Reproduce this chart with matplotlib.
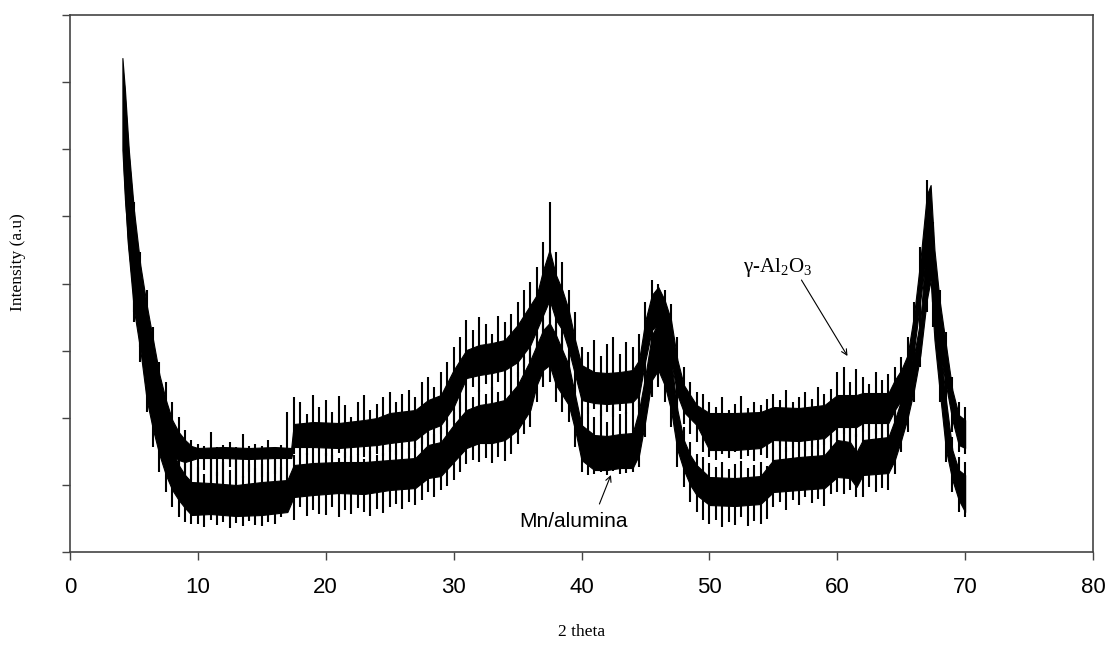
import numpy as np
import matplotlib
matplotlib.use("Agg")
import matplotlib.pyplot as plt

plt.rcParams['mathtext.fontset'] = 'custom'
plt.rcParams['mathtext.rm'] = 'Liberation Serif'
plt.rcParams['mathtext.default'] = 'rm'

# ---------------- data (intensity in arbitrary units) ----------------
# gamma-Al2O3 pattern: dense core band (lower / upper edge)
g_core_x = [4.1, 4.3, 4.6, 5.0, 5.5, 6.0, 6.5, 7.0, 7.5, 8.0, 8.5, 9.0, 9.5, 10, 12, 14, 16, 17.3,
            17.5, 19, 21, 23, 24, 25, 27, 28, 29, 30, 31, 32, 33, 34, 35, 36, 36.5, 37, 37.5, 38,
            38.5, 39, 39.5, 40, 41, 42, 43, 44, 44.5, 45, 45.5, 46, 46.5, 47, 47.5, 48, 49, 50, 52,
            54, 55, 57, 59, 60, 61.5, 62, 64, 64.5, 65, 65.5, 66, 66.5, 67, 67.3, 67.6, 68, 68.5,
            69, 69.5, 70]
g_core_hi = [494, 462, 402, 342, 287, 247, 212, 177, 152, 132, 120, 112, 106, 104, 105, 104, 105, 104,
             128, 130, 129, 132, 134, 139, 142, 152, 157, 182, 202, 207, 209, 212, 227, 247, 257, 282, 302, 277,
             262, 242, 212, 187, 180, 179, 180, 182, 192, 232, 257, 265, 252, 232, 192, 167, 147, 139, 139,
             140, 145, 144, 147, 157, 157, 159, 159, 172, 182, 197, 237, 292, 357, 367, 302, 252, 207,
             162, 137, 132]
g_core_lo = [402, 352, 302, 252, 222, 182, 152, 127, 107, 97, 92, 90, 92, 94, 94, 93, 94, 94,
             105, 105, 104, 106, 107, 109, 112, 122, 127, 145, 174, 177, 179, 182, 190, 207, 222, 237, 252, 232,
             222, 202, 177, 152, 149, 148, 149, 150, 157, 192, 222, 227, 212, 192, 157, 140, 127, 102, 102,
             104, 112, 111, 114, 125, 125, 129, 129, 142, 152, 162, 202, 252, 302, 302, 232, 202, 167,
             132, 107, 104]

# Mn/alumina pattern: dense core band
m_core_x = [4.2, 4.5, 5.0, 5.5, 6.0, 6.5, 7.0, 7.5, 8.0, 8.5, 9.0, 9.5, 11, 13, 15, 17,
            17.5, 19, 21, 23, 25, 27, 28, 29, 30, 31, 32, 33, 34, 35, 36, 36.5, 37, 37.5, 38,
            38.5, 39, 39.5, 40, 41, 42, 43, 44, 44.5, 45, 45.5, 46, 46.5, 47, 47.5, 48, 48.5, 49,
            50, 52, 54, 55, 57, 59, 60, 61, 61.5, 62, 64, 64.5, 65, 65.5, 66, 66.5, 67, 67.3,
            67.6, 68, 68.5, 69, 69.5, 70]
m_core_hi = [472, 412, 332, 272, 222, 182, 152, 122, 102, 87, 77, 70, 69, 67, 70, 72,
             87, 89, 90, 90, 92, 94, 107, 110, 127, 142, 147, 149, 152, 167, 192, 207, 222, 229, 217,
             202, 187, 157, 127, 117, 116, 118, 119, 142, 177, 217, 229, 217, 192, 142, 112, 97, 87,
             75, 74, 76, 92, 95, 97, 112, 110, 100, 112, 115, 132, 152, 172, 197, 232, 312, 342,
             272, 212, 152, 102, 82, 77]
m_core_lo = [382, 312, 242, 202, 152, 122, 97, 77, 62, 52, 44, 37, 38, 36, 37, 40,
             55, 57, 59, 58, 62, 64, 74, 76, 90, 104, 109, 109, 112, 122, 142, 167, 182, 187, 167,
             157, 147, 122, 92, 82, 82, 84, 84, 97, 132, 172, 182, 167, 142, 102, 82, 67, 57,
             47, 46, 48, 60, 62, 64, 75, 74, 65, 77, 79, 92, 112, 134, 162, 197, 252, 272,
             212, 162, 102, 72, 52, 40]

# noise spikes, read every 0.5 deg from 5 to 70 deg
spike_x = np.arange(5.0, 70.01, 0.5)
g_spike_hi = [350, 300, 262, 225, 190, 170, 150, 135, 122, 112,
              108, 106, 120, 105, 107, 110, 105, 118, 106, 108,
              106, 112, 105, 107, 140, 155, 150, 138, 157, 145,
              152, 140, 156, 147, 135, 150, 157, 142, 148, 155,
              160, 150, 158, 162, 155, 170, 175, 165, 180, 190,
              205, 215, 232, 222, 235, 228, 218, 236, 230, 238,
              250, 262, 270, 285, 310, 350, 300, 290, 262, 240,
              205, 200, 212, 196, 208, 215, 198, 210, 205, 218,
              250, 272, 268, 262, 248, 215, 185, 170, 160, 158,
              150, 145, 155, 142, 148, 156, 144, 150, 147, 153,
              158, 152, 162, 150, 155, 160, 153, 165, 158, 163,
              180, 185, 170, 183, 175, 168, 180, 172, 178, 185,
              195, 215, 250, 305, 372, 330, 262, 220, 175, 150,
              145]
g_spike_lo = [240, 205, 168, 132, 110, 88, 80, 70, 66, 72,
              70, 82, 64, 76, 68, 85, 62, 74, 80, 66,
              75, 64, 78, 70, 95, 98, 92, 97, 95, 90,
              96, 92, 99, 94, 90, 97, 95, 93, 98, 96,
              100, 97, 103, 98, 104, 108, 112, 106, 118, 125,
              130, 140, 158, 165, 160, 168, 162, 170, 166, 172,
              175, 185, 190, 200, 215, 225, 215, 200, 180, 160,
              140, 138, 143, 136, 140, 135, 141, 138, 137, 145,
              180, 205, 212, 195, 175, 145, 128, 118, 110, 100,
              95, 92, 98, 94, 100, 93, 96, 91, 97, 94,
              102, 106, 100, 104, 108, 101, 105, 103, 107, 110,
              112, 118, 110, 115, 120, 114, 118, 112, 120, 130,
              140, 150, 190, 240, 290, 250, 195, 155, 120, 100,
              98]
m_spike_hi = [340, 285, 235, 195, 165, 135, 115, 98, 90, 88,
              85, 78, 95, 80, 90, 82, 93, 76, 88, 84,
              88, 80, 92, 85, 98, 97, 92, 99, 95, 90,
              99, 97, 94, 100, 96, 98, 93, 101, 97, 99,
              105, 102, 108, 104, 110, 115, 120, 118, 125, 132,
              140, 150, 158, 155, 162, 158, 165, 160, 166, 172,
              180, 195, 210, 220, 232, 240, 228, 215, 198, 172,
              140, 145, 135, 142, 130, 145, 138, 140, 137, 155,
              190, 228, 240, 230, 205, 158, 125, 110, 98, 95,
              89, 85, 90, 83, 88, 91, 84, 87, 90, 86,
              108, 115, 105, 112, 118, 110, 115, 108, 117, 120,
              128, 125, 130, 118, 132, 127, 125, 133, 128, 145,
              165, 185, 208, 245, 330, 320, 225, 165, 115, 95,
              90]
m_spike_lo = [230, 190, 140, 105, 80, 60, 45, 35, 30, 28,
              28, 25, 32, 27, 30, 24, 29, 26, 31, 27,
              26, 30, 28, 35, 40, 32, 45, 36, 42, 38,
              37, 45, 35, 42, 38, 44, 40, 36, 43, 39,
              45, 48, 43, 50, 47, 52, 60, 55, 62, 66,
              72, 80, 88, 92, 90, 94, 89, 95, 91, 98,
              108, 118, 125, 150, 165, 170, 150, 140, 130, 105,
              80, 77, 78, 80, 77, 81, 78, 79, 80, 85,
              115, 155, 165, 150, 125, 85, 65, 50, 40, 32,
              28, 32, 25, 30, 27, 35, 26, 31, 28, 33,
              45, 50, 42, 52, 47, 55, 49, 53, 46, 58,
              60, 58, 62, 55, 55, 65, 60, 64, 62, 78,
              100, 120, 150, 185, 240, 225, 150, 90, 60, 40,
              35]

x_ticks = [0, 10, 20, 30, 40, 50, 60, 70, 80]

# ---------------- figure ----------------
fig = plt.figure(figsize=(11.09, 6.47), dpi=100)
ax = fig.add_axes([0.0631, 0.1468, 0.9225, 0.8300])

for cx, lo, hi, sx, slo, shi in [
        (g_core_x, g_core_lo, g_core_hi, spike_x, g_spike_lo, g_spike_hi),
        (m_core_x, m_core_lo, m_core_hi, spike_x, m_spike_lo, m_spike_hi)]:
    ax.fill_between(cx, lo, hi, color='black', lw=0.8, edgecolor='black')
    ax.vlines(sx, slo, shi, color='black', lw=1.5)

ax.set_xlim(0, 80)
ax.set_ylim(0, 537)
ax.set_xticks(x_ticks)
ax.set_xticklabels([str(t) for t in x_ticks], fontsize=16, family='Liberation Sans')
ax.set_yticks(np.linspace(0, 537, 9))
ax.set_yticklabels([])
ax.tick_params(axis='both', direction='out', length=6, width=1.0, color='#444444')
ax.tick_params(axis='x', pad=12)
for s in ax.spines.values():
    s.set_color('#444444')
    s.set_linewidth(1.2)

fig.text(0.5244, 1 - 632 / 647, '2 theta', ha='center', va='center',
         fontsize=12.5, family='Liberation Serif')
fig.text(18 / 1109, 1 - 262 / 647, 'Intensity (a.u)', ha='center', va='center',
         rotation=90, fontsize=12.5, family='Liberation Serif')

ax.annotate('', xy=(60.8, 196), xytext=(57.2, 272),
            arrowprops=dict(arrowstyle='->', color='black', lw=0.8, shrinkA=0, shrinkB=0))
ax.text(55.3, 285, r'$\gamma$-Al$_2$O$_3$', ha='center', va='center',
        fontsize=15, family='Liberation Serif')

ax.annotate('', xy=(42.3, 77), xytext=(41.4, 48),
            arrowprops=dict(arrowstyle='->', color='black', lw=0.8, shrinkA=0, shrinkB=0))
ax.text(39.4, 31, 'Mn/alumina', ha='center', va='center',
        fontsize=15, family='Liberation Sans')

fig.savefig('out.png', dpi=100)
